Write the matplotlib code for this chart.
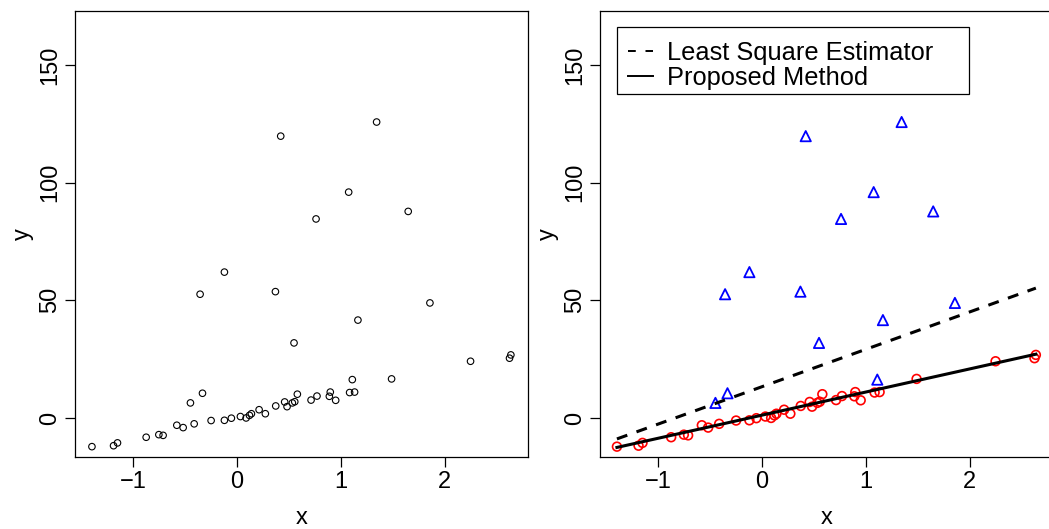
import numpy as np
import matplotlib
matplotlib.use("Agg")
import matplotlib.pyplot as plt
from matplotlib.lines import Line2D
from matplotlib.patches import Rectangle

plt.rcParams["font.family"] = ["Liberation Sans", "DejaVu Sans"]
plt.rcParams["axes.unicode_minus"] = True

# points that follow the linear trend (red circles on the right)
x_main = [-1.397, -1.189, -1.151, -0.875, -0.753, -0.712, -0.580, -0.519, -0.413,
          -0.250, -0.122, -0.055, 0.032, 0.087, 0.119, 0.138, 0.212, 0.272,
          0.372, 0.458, 0.481, 0.532, 0.555, 0.580, 0.712, 0.769, 0.888, 0.897,
          0.949, 1.083, 1.131, 1.487, 2.247, 2.622, 2.635]
y_main = [-12.2, -11.8, -10.6, -8.2, -7.1, -7.4, -3.1, -4.1, -2.5,
          -1.1, -1.0, -0.1, 0.6, 0.0, 1.1, 1.8, 3.5, 1.8,
          5.1, 6.8, 4.8, 6.4, 6.9, 10.1, 7.6, 9.3, 9.2, 11.0,
          7.5, 10.8, 11.0, 16.6, 24.1, 25.4, 26.8]

# contaminated points (blue triangles on the right)
x_out = [-0.449, -0.333, 0.548, 1.109, 0.420, 1.343, 1.074, 0.760, 1.647,
         -0.122, -0.356, 0.369, 1.856, 1.163]
y_out = [6.4, 10.5, 31.9, 16.3, 119.8, 125.8, 96.0, 84.6, 87.8,
         62.0, 52.6, 53.7, 48.9, 41.6]

# fitted lines: (intercept, slope)
ls_fit = (13.3, 15.9)
prop_fit = (1.2, 9.83)

x_ticks = [-1, 0, 1, 2]
y_ticks = [0, 50, 100, 150]
xlim = (-1.56, 2.80)
ylim = (-16.6, 173.0)
legend_labels = ["Least Square Estimator", "Proposed Method"]

W, H = 1049, 529
fig = plt.figure(figsize=(W / 100, H / 100), dpi=100)
axw, axh = 453 / W, 446 / H
bottom = (H - 457) / H
ax1 = fig.add_axes([75 / W, bottom, axw, axh])
ax2 = fig.add_axes([600 / W, bottom, axw, axh])


def style(ax):
    ax.set_xlim(*xlim)
    ax.set_ylim(*ylim)
    ax.set_xticks(x_ticks)
    ax.set_yticks(y_ticks)
    ax.tick_params(direction="out", length=7, width=0.9, labelsize=17,
                   colors="black", pad=3)
    for lab in ax.get_yticklabels():
        lab.set_rotation(90)
        lab.set_va("center")
    for s in ax.spines.values():
        s.set_linewidth(0.9)
    ax.set_xlabel("x", fontsize=17, labelpad=10)
    ax.set_ylabel("y", fontsize=17, labelpad=4)


# left: raw data
ax1.scatter(x_main + x_out, y_main + y_out, s=22, facecolors="none",
            edgecolors="black", linewidths=0.8, zorder=3)
style(ax1)

# right: classified points with two fits
ax2.scatter(x_main, y_main, s=40, facecolors="none", edgecolors="red",
            linewidths=1.2, zorder=3)
ax2.scatter(x_out, y_out, s=55, marker="^", facecolors="none",
            edgecolors="blue", linewidths=1.3, zorder=3)
xx = np.array([min(x_main + x_out), max(x_main + x_out)])
ax2.plot(xx, ls_fit[0] + ls_fit[1] * xx, color="black", lw=2.2,
         linestyle=(0, (3.6, 3.2)), zorder=4)
ax2.plot(xx, prop_fit[0] + prop_fit[1] * xx, color="black", lw=2.2, zorder=4)
style(ax2)

# legend: R-style box, wider than its text
handles = [Line2D([], [], color="black", lw=1.4, linestyle=(0, (4, 5))),
           Line2D([], [], color="black", lw=1.4)]
leg = fig.legend(handles, legend_labels, loc="upper left",
                 bbox_to_anchor=(628 / W, 1 - 41 / H),
                 bbox_transform=fig.transFigure,
                 fontsize=18.3, frameon=False, borderpad=0,
                 labelspacing=0.05, handlelength=1.0, handletextpad=0.55,
                 borderaxespad=0)
fig.patches.append(Rectangle((617 / W, 1 - 94 / H), (969 - 617) / W, 67 / H,
                             transform=fig.transFigure, fill=True,
                             facecolor="white", edgecolor="black",
                             linewidth=0.9, zorder=5))
leg.set_zorder(6)

fig.savefig("out.png", dpi=100)
